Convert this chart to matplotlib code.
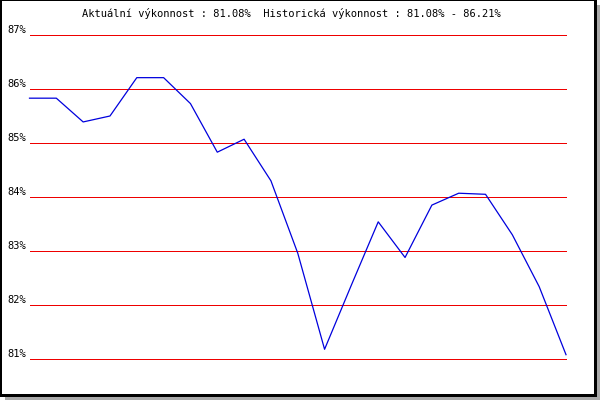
import matplotlib
matplotlib.use("Agg")
import matplotlib.pyplot as plt
from matplotlib.patches import Rectangle

title_text = "Aktuální výkonnost : 81.08%  Historická výkonnost : 81.08% - 86.21%"
values = [85.83, 85.83, 85.39, 85.50, 86.21, 86.21, 85.73, 84.83, 85.07, 84.30,
          82.96, 81.18, 82.37, 83.54, 82.88, 83.85, 84.07, 84.05, 83.30, 82.34, 81.08]
y_ticks = [81, 82, 83, 84, 85, 86, 87]
y_labels = ["81%", "82%", "83%", "84%", "85%", "86%", "87%"]

W, H = 600, 400
fig = plt.figure(figsize=(W / 100, H / 100), dpi=100)
fig.patch.set_facecolor("white")

def px_rect(x0, y0, x1, y1, color, z):
    fig.add_artist(Rectangle((x0 / W, 1 - y1 / H), (x1 - x0) / W, (y1 - y0) / H,
                             transform=fig.transFigure, facecolor=color,
                             edgecolor="none", zorder=z, antialiased=False))

px_rect(5, 5, 600, 400, "#a9a9a9", -3)
px_rect(0, 0, 597, 397, "black", -2)
px_rect(2, 1, 594, 394, "white", -1)

left, right, top, bottom = 29.5, 566, 35, 359
ax = fig.add_axes([left / W, 1 - bottom / H, (right - left) / W, (bottom - top) / H])
ax.set_facecolor("none")
for s in ax.spines.values():
    s.set_visible(False)

n = len(values)
x = list(range(n))
ax.set_xlim(0, n - 1)
ax.set_ylim(81, 87)
for t in y_ticks:
    ax.axhline(t, color="#ee0000", lw=0.72, zorder=1, clip_on=False)
ax.plot(x, values, color="#0000dd", lw=0.9, zorder=2, clip_on=False)

ax.set_xticks([])
ax.set_yticks([])
mono = "DejaVu Sans Mono"
xoff = -3.0 / (right - left) * (n - 1)
for t, lab in zip(y_ticks, y_labels):
    ax.text(xoff, t, lab, ha="right", va="bottom", fontsize=7.5,
            family=mono, color="black")

fig.text(82 / W, 1 - 13.5 / H, title_text, ha="left", va="center",
         fontsize=7.5, family=mono, color="black")

fig.savefig("out.png", dpi=100, facecolor="white")
